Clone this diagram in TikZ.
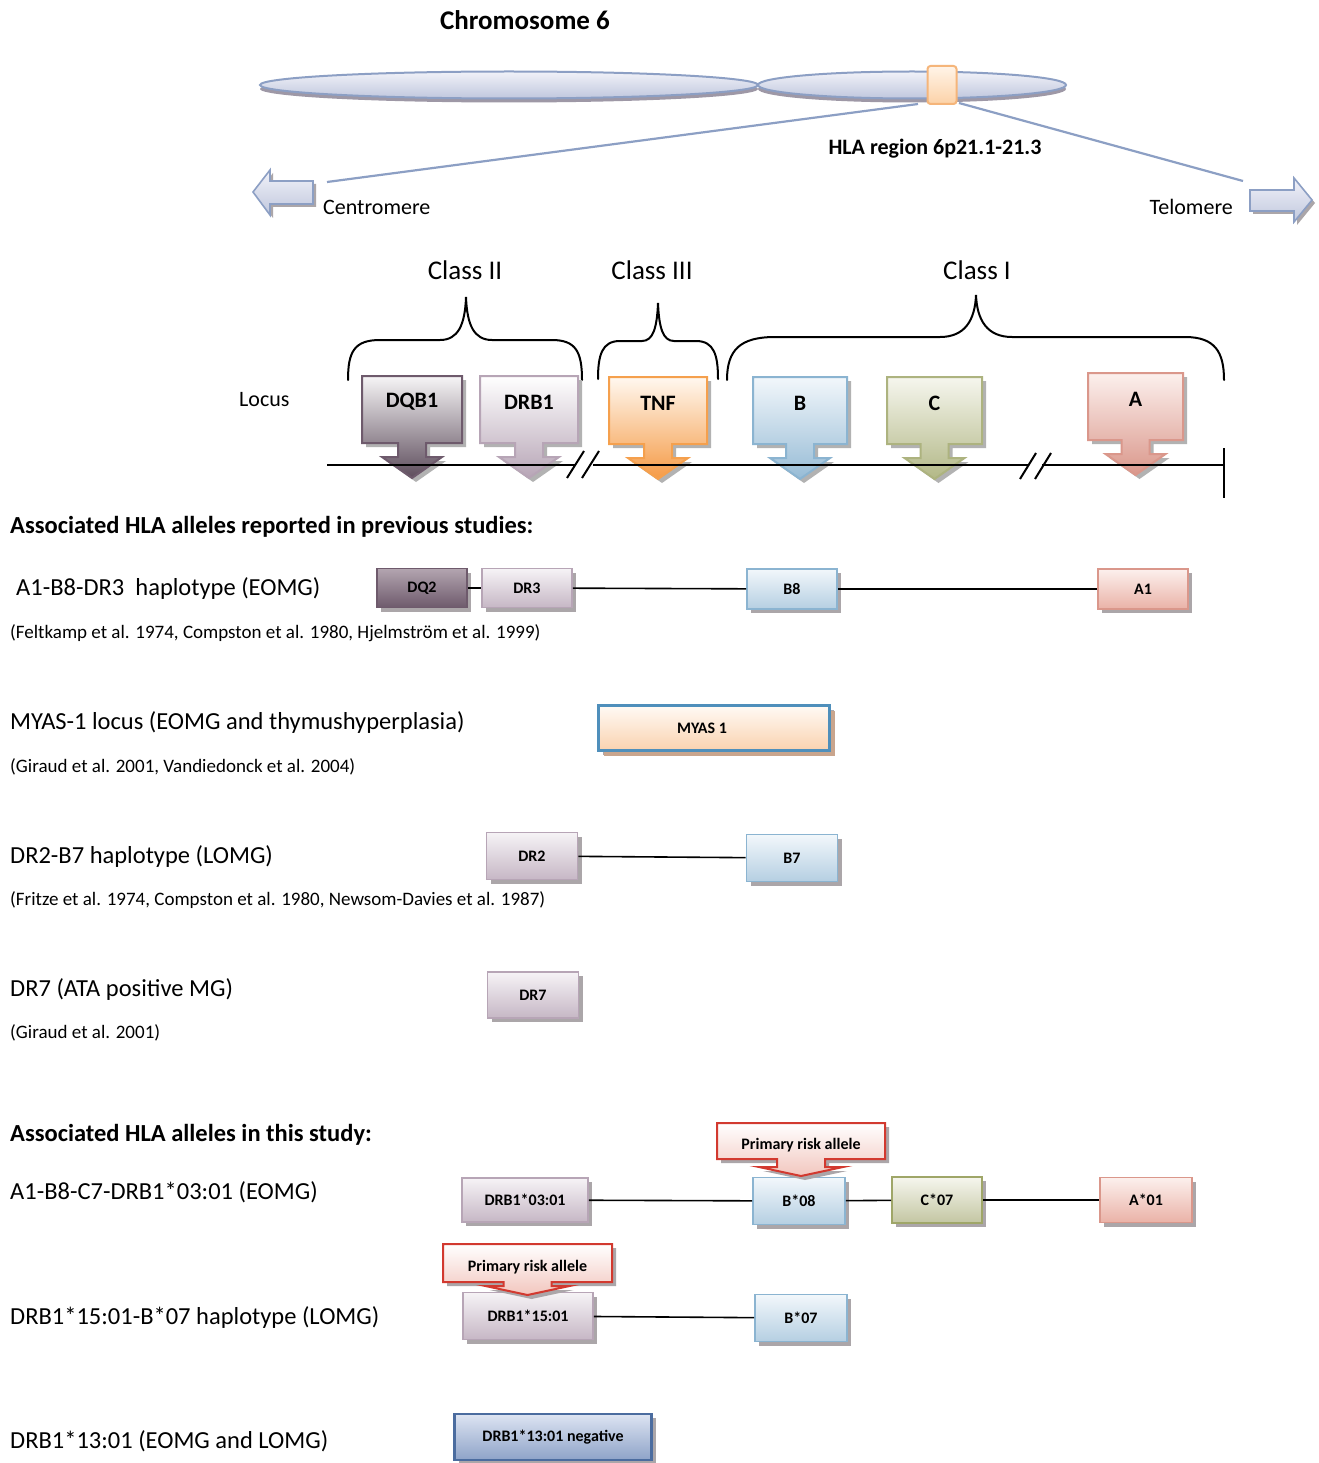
\documentclass[tikz,border=0pt]{standalone}
\usepackage{fontspec}
\setmainfont{Carlito}
\usetikzlibrary{shapes.geometric,shadows}

\newcommand\fsz[1]{\fontsize{#1}{#1}\selectfont}

% palette
\definecolor{chrline}{HTML}{8C9FC4}
\definecolor{chrtop}{HTML}{F1F2F9}
\definecolor{chrbot}{HTML}{C0C7DD}
\definecolor{chrshadow}{HTML}{9E98A6}
\definecolor{bandline}{HTML}{F5B57A}
\definecolor{bandtop}{HTML}{FFF4E8}
\definecolor{bandbot}{HTML}{FCD2A8}
\definecolor{shadowc}{HTML}{ABA6A9}
\definecolor{dqline}{HTML}{6E5A6C}
\definecolor{dqtop}{HTML}{B3A5B0}
\definecolor{dqbot}{HTML}{6E5A6C}
\definecolor{drline}{HTML}{B7A5B6}
\definecolor{drtop}{HTML}{F6F3F6}
\definecolor{drbot}{HTML}{C6B7C5}
\definecolor{bline}{HTML}{8BB4D1}
\definecolor{btop}{HTML}{F2F7FB}
\definecolor{bbot}{HTML}{B5CFE2}
\definecolor{cline}{HTML}{9FA668}
\definecolor{ctop}{HTML}{F6F6EE}
\definecolor{cbot}{HTML}{C3C6A2}
\definecolor{aline}{HTML}{DA978B}
\definecolor{atop}{HTML}{FCF0ED}
\definecolor{abot}{HTML}{EAB2A7}
\definecolor{myline}{HTML}{4F8FBB}
\definecolor{mytop}{HTML}{FFFAF5}
\definecolor{mybot}{HTML}{FAD2AF}
\definecolor{myshadow}{HTML}{C9A58D}
\definecolor{negline}{HTML}{4B6C9F}
\definecolor{negtop}{HTML}{DDE4F2}
\definecolor{negbot}{HTML}{8EA3C8}
\definecolor{riskline}{HTML}{D2392F}
\definecolor{risktop}{HTML}{FFFFFF}
\definecolor{riskbot}{HTML}{F2C6BE}
\definecolor{tnfline}{HTML}{F5A04D}
\definecolor{tnftop}{HTML}{FFF8F0}
\definecolor{tnfbot}{HTML}{F59A45}

% gene locus: box with a block arrow pointing down to the chromosome line
% #1 name, #2 left, #3 right, #4 top, #5 label, #6 border, #7 top shade, #8 bottom shade
\newcommand\locus[8]{%
  \pgfmathsetmacro\LcX{(#2+#3)/2}%
  \pgfmathsetmacro\LcB{#4+67}%
  \pgfmathsetmacro\LcS{#4+81}%
  \pgfmathsetmacro\LcT{#4+102}%
  \pgfmathsetmacro\LcXa{\LcX-14}%
  \pgfmathsetmacro\LcXb{\LcX+14}%
  \pgfmathsetmacro\LcXc{\LcX-30}%
  \pgfmathsetmacro\LcXd{\LcX+30}%
  \begin{scope}[shift={(4,4)}]
    \fill[black!30] (#2,#4) -- (#3,#4) -- (#3,\LcB) -- (\LcXb,\LcB) -- (\LcXb,\LcS)
      -- (\LcXd,\LcS) -- (\LcX,\LcT) -- (\LcXc,\LcS) -- (\LcXa,\LcS) -- (\LcXa,\LcB)
      -- (#2,\LcB) -- cycle;
  \end{scope}
  \shade[draw=#6, line width=2pt, top color=#7, bottom color=#8, line join=miter]
    (#2,#4) -- (#3,#4) -- (#3,\LcB) -- (\LcXb,\LcB) -- (\LcXb,\LcS)
    -- (\LcXd,\LcS) -- (\LcX,\LcT) -- (\LcXc,\LcS) -- (\LcXa,\LcS) -- (\LcXa,\LcB)
    -- (#2,\LcB) -- cycle;
  \node[loclabel] (#1) at (\LcX,{#4+26}) {#5};%
}

% "Primary risk allele" callout
% #1 name, #2 left, #3 right, #4 top, #5 bottom, #6 tip y
\newcommand\riskcallout[6]{%
  \pgfmathsetmacro\RcX{(#2+#3)/2}%
  \pgfmathsetmacro\RcS{#6-9}%
  \pgfmathsetmacro\RcXa{\RcX-24}%
  \pgfmathsetmacro\RcXb{\RcX+24}%
  \pgfmathsetmacro\RcXc{\RcX-42}%
  \pgfmathsetmacro\RcXd{\RcX+42}%
  \begin{scope}[shift={(4,4)}]
    \fill[shadowc] (#2,#4) -- (#3,#4) -- (#3,#5) -- (\RcXb,#5) -- (\RcXb,\RcS)
      -- (\RcXd,\RcS) -- (\RcX,#6) -- (\RcXc,\RcS) -- (\RcXa,\RcS) -- (\RcXa,#5)
      -- (#2,#5) -- cycle;
  \end{scope}
  \shade[draw=riskline, line width=2pt, top color=risktop, bottom color=riskbot]
    (#2,#4) -- (#3,#4) -- (#3,#5) -- (\RcXb,#5) -- (\RcXb,\RcS)
    -- (\RcXd,\RcS) -- (\RcX,#6) -- (\RcXc,\RcS) -- (\RcXa,\RcS) -- (\RcXa,#5)
    -- (#2,#5) -- cycle;
  \node[boxlabel] (#1) at (\RcX,{(#4+#5)/2+4}) {Primary risk allele};%
}

\begin{document}
\begin{tikzpicture}[x=1pt, y=-1pt,
  title/.style={font=\bfseries\fsz{27}, inner sep=0pt},
  classlbl/.style={font=\fsz{27}, inner sep=0pt},
  small/.style={font=\fsz{22}, inner sep=0pt},
  heading/.style={anchor=west, font=\bfseries\fsz{24.5}, inner sep=0pt},
  rowlbl/.style={anchor=west, font=\fsz{24.5}, inner sep=0pt},
  cite/.style={anchor=west, font=\fsz{19}, inner sep=0pt},
  loclabel/.style={font=\bfseries\fsz{22}, inner sep=0pt},
  boxlabel/.style={font=\bfseries\fsz{16}, inner sep=0pt},
  brace/.style={line width=2pt, line cap=round},
  chromline/.style={line width=2pt},
  conn/.style={line width=1.6pt},
  zoomline/.style={chrline, line width=2.2pt},
  allele/.style={draw, line width=1.7pt, inner sep=0pt, font=\bfseries\fsz{16},
    general shadow={fill=shadowc, shadow xshift=4pt, shadow yshift=-4pt}},
  dqbox/.style={allele, draw=dqline, top color=dqtop, bottom color=dqbot},
  drbox/.style={allele, draw=drline, top color=drtop, bottom color=drbot},
  bbox/.style={allele, draw=bline, top color=btop, bottom color=bbot},
  cbox/.style={allele, draw=cline, top color=ctop, bottom color=cbot},
  abox/.style={allele, draw=aline, top color=atop, bottom color=abot},
  mybox/.style={allele, draw=myline, line width=2.4pt, top color=mytop, bottom color=mybot,
    general shadow={fill=myshadow, shadow xshift=5pt, shadow yshift=-5pt}},
  negbox/.style={allele, draw=negline, line width=2.2pt, top color=negtop, bottom color=negbot},
  chrom/.style={ellipse, draw=chrline, line width=2pt, top color=chrtop, bottom color=chrbot,
    inner sep=0pt, general shadow={fill=chrshadow, shadow xshift=0pt, shadow yshift=-4pt}},
  blockarrow/.style={draw=chrline, line width=1.6pt, top color=chrtop, bottom color=chrbot}
]
\useasboundingbox (0,0) rectangle (1318,1463);
\fill[white] (0,0) rectangle (1318,1463);

% ---------------- chromosome 6 ----------------
\node[title] (chrtitle) at (525,20) {Chromosome 6};
\node[chrom, minimum width=498pt, minimum height=27pt] (chrL) at (509,85) {};
\node[chrom, minimum width=308pt, minimum height=27pt] (chrR) at (912,85) {};
\node[draw=bandline, line width=2pt, rounded corners=3pt, top color=bandtop, bottom color=bandbot,
      minimum width=29pt, minimum height=38pt, inner sep=0pt] (band) at (942,85) {};

\coordinate (cenEnd) at (327,182);
\coordinate (telEnd) at (1243,181);
\coordinate (bandL) at (918,104);
\coordinate (bandR) at (959,103);
\draw[zoomline] (bandL) -- (cenEnd);
\draw[zoomline] (bandR) -- (telEnd);
\node[font=\bfseries\fsz{22}, inner sep=0pt] (hla) at (935,149) {HLA region 6p21.1-21.3};

% direction arrows
\fill[shadowc, shift={(3,3)}] (253,192) -- (270,170) -- (270,181) -- (313,181) -- (313,204) -- (270,204) -- (270,215) -- cycle;
\path[blockarrow] (253,192) -- (270,170) -- (270,181) -- (313,181) -- (313,204) -- (270,204) -- (270,215) -- cycle;
\node[small, anchor=west] (cen) at (323,207) {Centromere};

\fill[shadowc, shift={(3,3)}] (1250,190) -- (1294,190) -- (1294,178) -- (1312,200) -- (1294,222) -- (1294,211) -- (1250,211) -- cycle;
\path[blockarrow] (1250,190) -- (1294,190) -- (1294,178) -- (1312,200) -- (1294,222) -- (1294,211) -- (1250,211) -- cycle;
\node[small, anchor=east] (tel) at (1233,207) {Telomere};

% ---------------- classes ----------------
\node[classlbl] (cls2) at (465,270) {Class II};
\node[classlbl] (cls3) at (652,270) {Class III};
\node[classlbl] (cls1) at (977,270) {Class I};

\draw[brace] (348,380) .. controls (348,352) and (354,340) .. (380,340) -- (440,340)
  .. controls (458,340) and (465,325) .. (466,297) .. controls (467,325) and (474,340) .. (492,340)
  -- (552,340) .. controls (576,340) and (582,352) .. (582,380);
\draw[brace] (598,379) .. controls (598,355) and (602,341) .. (620,341) -- (642,341)
  .. controls (653,341) and (657,328) .. (658,303) .. controls (659,328) and (663,341) .. (674,341)
  -- (696,341) .. controls (714,341) and (718,355) .. (718,379);
\draw[brace] (727,380) .. controls (727,350) and (740,337) .. (775,337) -- (940,337)
  .. controls (965,337) and (975,320) .. (976,295) .. controls (977,320) and (987,337) .. (1012,337)
  -- (1185,337) .. controls (1215,337) and (1224,352) .. (1224,380);

\node[small, anchor=west] (locuslbl) at (239,400) {Locus};

% ---------------- loci ----------------
\locus{dqb1}{362}{462}{376}{DQB1}{dqline}{white!94!dqline}{dqline!85!black}
\locus{drb1}{480}{578}{376}{DRB1}{drline}{white}{drline}
\locus{tnf}{609}{707}{377}{TNF}{tnfline}{tnftop}{tnfbot}
\locus{locb}{753}{847}{377}{B}{bline}{btop}{bline!90!white}
\locus{locc}{887}{982}{377}{C}{cline!85!white}{ctop}{cline!80!white}
\locus{loca}{1088}{1183}{373}{A}{aline}{atop}{aline}

% chromosome line with breaks
\coordinate (ln0) at (327,465);
\coordinate (ln1) at (575,465);
\coordinate (ln2) at (593,465);
\coordinate (ln3) at (1029,465);
\coordinate (ln4) at (1042,465);
\coordinate (ln5) at (1224,465);
\coordinate (tickT) at (1224,448);
\coordinate (tickB) at (1224,498);
\draw[chromline] (ln0) -- (ln1);
\draw[chromline] (ln2) -- (ln3);
\draw[chromline] (ln4) -- (ln5);
\draw[chromline] (tickT) -- (tickB);
\draw[chromline] (567,478) -- (584,451);
\draw[chromline] (582,478) -- (599,451);
\draw[chromline] (1020,479) -- (1036,453);
\draw[chromline] (1035,479) -- (1051,453);

% ---------------- previous studies ----------------
\node[heading] (h1) at (10,527) {Associated HLA alleles reported in previous studies:};

\node[rowlbl] (r1) at (16,589) {A1-B8-DR3\ \ haplotype (EOMG)};
\node[cite] (c1) at (10,633) {(Feltkamp et al. 1974, Compston et al. 1980, Hjelmström et al. 1999)};
\node[dqbox, minimum width=90pt, minimum height=39pt] (dq2) at (422,588) {DQ2};
\node[drbox, minimum width=90pt, minimum height=39pt] (dr3) at (527,588) {DR3};
\node[bbox, minimum width=90pt, minimum height=40pt] (b8) at (792,589) {B8};
\node[abox, minimum width=90pt, minimum height=40pt] (a1) at (1143,589) {A1};
\draw[conn] (dq2) -- (dr3);
\draw[conn] (dr3) -- (b8);
\draw[conn] (b8) -- (a1);

\node[rowlbl] (r2) at (10,723) {MYAS-1 locus (EOMG and thymushyperplasia)};
\node[cite] (c2) at (10,767) {(Giraud et al. 2001, Vandiedonck et al. 2004)};
\node[mybox, minimum width=231pt, minimum height=45pt] (myas) at (714,728) {MYAS 1\hspace*{24pt}};

\node[rowlbl] (r3) at (10,857) {DR2-B7 haplotype (LOMG)};
\node[cite] (c3) at (10,900) {(Fritze et al. 1974, Compston et al. 1980, Newsom-Davies et al. 1987)};
\node[drbox, minimum width=91pt, minimum height=47pt] (dr2) at (532,856) {DR2};
\node[bbox, minimum width=91pt, minimum height=47pt] (b7) at (792,858) {B7};
\draw[conn] (dr2) -- (b7);

\node[rowlbl] (r4) at (10,990) {DR7 (ATA positive MG)};
\node[cite] (c4) at (10,1033) {(Giraud et al. 2001)};
\node[drbox, minimum width=91pt, minimum height=46pt] (dr7) at (533,995) {DR7};

% ---------------- this study ----------------
\node[heading] (h2) at (10,1135) {Associated HLA alleles in this study:};

\node[rowlbl] (r5) at (10,1192) {A1-B8-C7-DRB1*03:01 (EOMG)};
\node[drbox, minimum width=126pt, minimum height=44pt] (drb0301) at (525,1200) {DRB1*03:01};
\node[bbox, minimum width=92pt, minimum height=47pt] (bs08) at (799,1201) {B*08};
\node[cbox, minimum width=90pt, minimum height=46pt] (cs07) at (937,1200) {C*07};
\node[abox, minimum width=92pt, minimum height=45pt] (as01) at (1146,1200) {A*01};
\draw[conn] (drb0301) -- (bs08);
\draw[conn] (bs08) -- (cs07);
\draw[conn] (cs07) -- (as01);
\riskcallout{risk1}{717}{885}{1123}{1159}{1176}

\node[rowlbl] (r6) at (10,1317) {DRB1*15:01-B*07 haplotype (LOMG)};
\node[drbox, minimum width=130pt, minimum height=47pt] (drb1501) at (528,1316) {DRB1*15:01};
\node[bbox, minimum width=92pt, minimum height=47pt] (bs07) at (801,1318) {B*07};
\draw[conn] (drb1501) -- (bs07);
\riskcallout{risk2}{443}{612}{1244}{1282}{1295}

\node[rowlbl] (r7) at (10,1441) {DRB1*13:01 (EOMG and LOMG)};
\node[negbox, minimum width=197pt, minimum height=46pt] (drb1301) at (553,1437) {DRB1*13:01 negative};
\end{tikzpicture}
\end{document}
